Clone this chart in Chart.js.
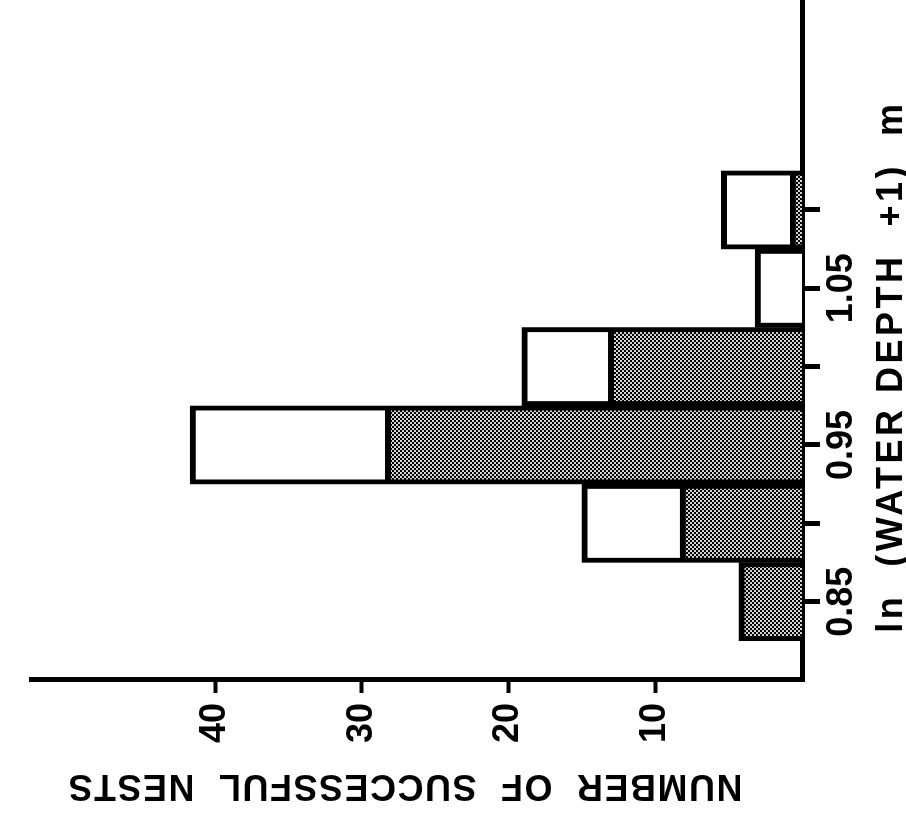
<!DOCTYPE html>
<html>
<head>
<meta charset="utf-8">
<title>Successful nests by water depth</title>
<script src="https://cdn.jsdelivr.net/npm/chart.js@4.4.1/dist/chart.umd.min.js"></script>
<style>
  html, body { margin: 0; padding: 0; background: #fff; }
  #wrap { position: relative; width: 906px; height: 824px; overflow: hidden; }
  /* laid out upright, then turned a quarter to the left */
  #nests { position: absolute; left: 0; top: 0; transform-origin: 0 0; transform: translate(0, 824px) rotate(-90deg); }
</style>
</head>
<body>
<div id="wrap"><canvas id="nests" width="824" height="906"></canvas></div>
<script>
// bins of ln(water depth + 1), m
const depthBins = [0.85, 0.90, 0.95, 1.00, 1.05, 1.10];
const depthTickLabels = ['0.85', '', '0.95', '', '1.05', ''];

// shaded part of each bar and the open part stacked on top of it
const successful = [4.3, 8.3, 28.4, 13.2, 0, 0.8];
const others = [0, 6.7, 13.3, 5.9, 3.2, 4.7];

const countTicks = [10, 20, 30, 40];

const xTitle = 'ln  (WATER DEPTH  +1)  m';
const yTitle = 'NUMBER  OF  SUCCESSFUL  NESTS';

const FONT = "'Liberation Sans', Arial, sans-serif";
Chart.defaults.font.family = FONT;
Chart.defaults.font.size = 36;
Chart.defaults.font.weight = 'bold';
Chart.defaults.color = '#000';

const canvas = document.getElementById('nests');
const ctx = canvas.getContext('2d');

// halftone fill for the shaded bars
function stipple() {
	const c = document.createElement('canvas');
	c.width = 4;
	c.height = 4;
	const g = c.getContext('2d');
	g.fillStyle = '#d4d4d4';
	g.fillRect(0, 0, 4, 4);
	g.fillStyle = '#000';
	g.fillRect(0, 0, 2, 2);
	g.fillRect(2, 2, 2, 2);
	return ctx.createPattern(c, 'repeat');
}

// axis titles, drawn by hand so the letters can be spaced out
const axisTitles = {
	id: 'axisTitles',
	afterDraw(chart) {
		const g = chart.ctx;
		const area = chart.chartArea;
		g.save();
		g.fillStyle = '#000';
		g.textAlign = 'center';
		g.textBaseline = 'alphabetic';

		g.font = 'bold 36px ' + FONT;
		g.letterSpacing = '3.5px';
		g.fillText(xTitle, chart.scales.x.getPixelForValue(1.0), chart.height - 4);

		g.font = 'bold 36px ' + FONT;
		g.letterSpacing = '1.5px';
		g.translate(49, (area.top + area.bottom) / 2 - 12);
		g.rotate(-Math.PI / 2);
		g.fillText(yTitle, 0, 0);
		g.restore();
	}
};

const barBorder = { top: 6, left: 5, right: 5, bottom: 0 };

new Chart(ctx, {
	type: 'bar',
	data: {
		labels: depthBins,
		datasets: [
			{
				label: 'Successful',
				data: successful,
				backgroundColor: stipple(),
				borderColor: '#000',
				borderWidth: barBorder,
				borderSkipped: 'start'
			},
			{
				label: 'Other',
				data: others,
				backgroundColor: '#fff',
				borderColor: '#000',
				borderWidth: barBorder,
				borderSkipped: 'start'
			}
		]
	},
	options: {
		responsive: false,
		animation: false,
		devicePixelRatio: 1,
		layout: { padding: { top: 8, left: 0, right: 0, bottom: 0 } },
		datasets: { bar: { barPercentage: 1, categoryPercentage: 1 } },
		plugins: {
			legend: { display: false },
			tooltip: { enabled: false }
		},
		scales: {
			x: {
				type: 'linear',
				stacked: true,
				min: 0.8,
				max: 1.234,
				offset: false,
				afterBuildTicks: s => { s.ticks = depthBins.map(v => ({ value: v })); },
				afterFit: s => { s.height = 104; },
				ticks: {
					autoSkip: false,
					maxRotation: 0,
					padding: 0,
					callback: (v, i) => depthTickLabels[i]
				},
				grid: { offset: false, drawOnChartArea: false, tickLength: 18, tickWidth: 5, tickColor: '#000' },
				border: { display: true, color: '#000', width: 5 }
			},
			y: {
				stacked: true,
				min: 0,
				max: 52.5,
				afterBuildTicks: s => { s.ticks = countTicks.map(v => ({ value: v })); },
				afterFit: s => { s.width = 144; },
				ticks: { padding: 10 },
				grid: { drawOnChartArea: false, tickLength: 13, tickWidth: 4, tickColor: '#000' },
				border: { display: true, color: '#000', width: 5 }
			}
		}
	},
	plugins: [axisTitles]
});
</script>
</body>
</html>
